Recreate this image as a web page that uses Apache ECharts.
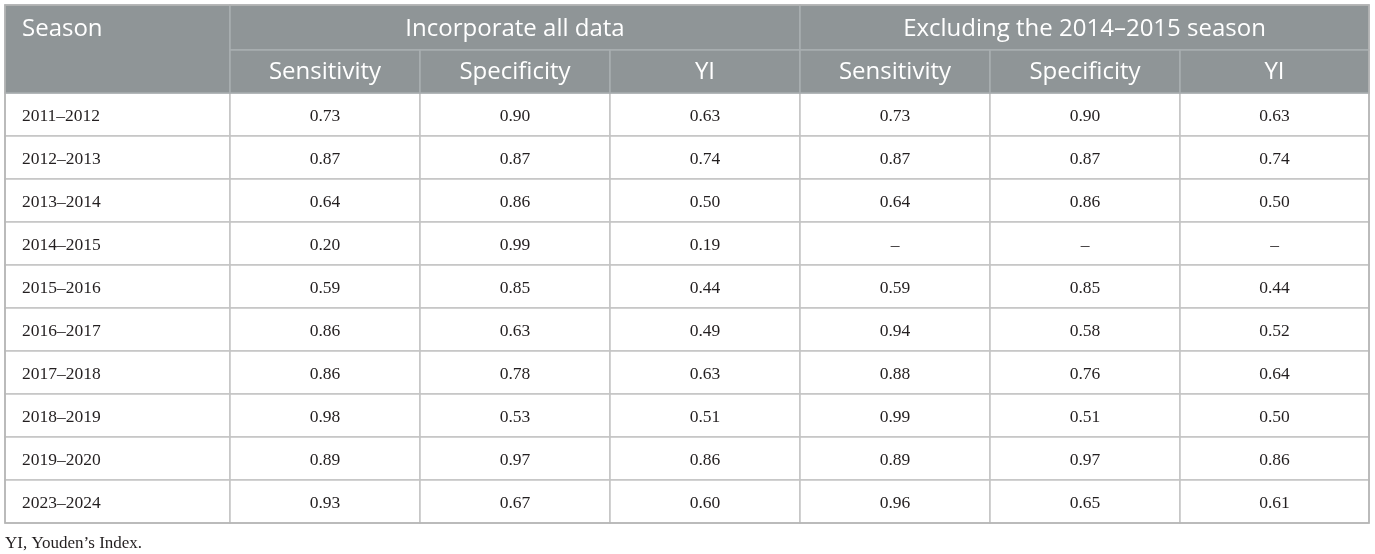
<!DOCTYPE html>
<html>
<head>
<meta charset="utf-8">
<script src="https://cdn.jsdelivr.net/npm/echarts@6/dist/echarts.min.js"></script>
<style>
  html, body { margin: 0; padding: 0; background: #fff; }
  #main { width: 1375px; height: 554px; }
</style>
</head>
<body>
<div id="main"></div>
<script>
// table contents
const seasons = ['2011–2012', '2012–2013', '2013–2014', '2014–2015', '2015–2016',
  '2016–2017', '2017–2018', '2018–2019', '2019–2020', '2023–2024'];
const groupHeaders = ['Incorporate all data', 'Excluding the 2014–2015 season'];
const subHeaders = ['Sensitivity', 'Specificity', 'YI'];

const allSens = [0.73, 0.87, 0.64, 0.20, 0.59, 0.86, 0.86, 0.98, 0.89, 0.93];
const allSpec = [0.90, 0.87, 0.86, 0.99, 0.85, 0.63, 0.78, 0.53, 0.97, 0.67];
const allYI   = [0.63, 0.74, 0.50, 0.19, 0.44, 0.49, 0.63, 0.51, 0.86, 0.60];

const exSens = [0.73, 0.87, 0.64, null, 0.59, 0.94, 0.88, 0.99, 0.89, 0.96];
const exSpec = [0.90, 0.87, 0.86, null, 0.85, 0.58, 0.76, 0.51, 0.97, 0.65];
const exYI   = [0.63, 0.74, 0.50, null, 0.44, 0.52, 0.64, 0.50, 0.86, 0.61];

const footnote = 'YI, Youden’s Index.';

// layout (axis units)
const colWidths = [225, 190, 190, 190, 190, 190, 189];
const headRows = [45, 43];
const rowHeight = 43;

const colEdges = [0];
colWidths.forEach(w => colEdges.push(colEdges[colEdges.length - 1] + w));
const headBottom = headRows[0] + headRows[1];
const tableHeight = headBottom + rowHeight * seasons.length;

const fmt = v => (v == null ? '–' : v.toFixed(2));

const cells = [];
// body
const bodyCols = [allSens, allSpec, allYI, exSens, exSpec, exYI];
seasons.forEach((s, r) => {
  const y0 = headBottom + r * rowHeight;
  const ty = y0 + rowHeight / 2 + 2;
  cells.push({ x0: colEdges[0], x1: colEdges[1], y0: y0, y1: y0 + rowHeight, ty: ty, text: s, kind: 'body', left: true });
  bodyCols.forEach((col, c) => {
    cells.push({ x0: colEdges[c + 1], x1: colEdges[c + 2], y0: y0, y1: y0 + rowHeight, ty: ty, text: fmt(col[r]), kind: 'body' });
  });
});
// header
cells.push({ x0: colEdges[0], x1: colEdges[1], y0: 0, y1: headBottom, ty: headRows[0] / 2 + 1.5, text: 'Season', kind: 'head', left: true });
groupHeaders.forEach((g, i) => {
  cells.push({ x0: colEdges[1 + i * 3], x1: colEdges[4 + i * 3], y0: 0, y1: headRows[0], ty: headRows[0] / 2 + 1.5, text: g, kind: 'head' });
  subHeaders.forEach((h, j) => {
    cells.push({ x0: colEdges[1 + i * 3 + j], x1: colEdges[2 + i * 3 + j], y0: headRows[0], y1: headBottom, ty: headRows[0] + headRows[1] / 2 + 1, text: h, kind: 'head' });
  });
});
// outer frame
cells.push({ x0: 0, x1: colEdges[colEdges.length - 1], y0: 0, y1: tableHeight, text: '', kind: 'frame' });

const chart = echarts.init(document.getElementById('main'));

function renderCell(params, api) {
  const c = cells[params.dataIndex];
  const p0 = api.coord([api.value(0), api.value(2)]);
  const p1 = api.coord([api.value(1), api.value(3)]);
  const ty = c.ty != null ? api.coord([0, c.ty])[1] : (p0[1] + p1[1]) / 2;
  const rect = { x: p0[0], y: p0[1], width: p1[0] - p0[0], height: p1[1] - p0[1] };
  const head = c.kind === 'head';
  let style;
  if (c.kind === 'frame') style = { fill: null, stroke: '#b4b4b4', lineWidth: 1.5 };
  else if (head) style = { fill: '#8f9597', stroke: '#a9aeb1', lineWidth: 1.5 };
  else style = { fill: '#fff', stroke: '#c4c4c4', lineWidth: 1.5 };
  return {
    type: 'group',
    children: [
      { type: 'rect', shape: rect, style: style },
      {
        type: 'text',
        style: {
          text: c.text,
          x: c.left ? p0[0] + 17 : (p0[0] + p1[0]) / 2,
          y: ty,
          align: c.left ? 'left' : 'center',
          verticalAlign: 'middle',
          fill: head ? '#fff' : '#231f20',
          font: head ? '24px "Open Sans"' : '17.5px "Liberation Serif"'
        }
      }
    ]
  };
}

const option = {
  backgroundColor: '#ffffff',
  animation: false,
  title: {
    text: footnote,
    left: 5,
    top: 535,
    padding: 0,
    textStyle: { fontFamily: 'Liberation Serif', fontSize: 17, fontWeight: 'normal', color: '#231f20' }
  },
  grid: { left: 5, top: 5, width: colEdges[colEdges.length - 1], height: tableHeight },
  xAxis: { type: 'value', min: 0, max: colEdges[colEdges.length - 1], show: false },
  yAxis: { type: 'value', min: 0, max: tableHeight, inverse: true, show: false },
  series: [{
    type: 'custom',
    renderItem: renderCell,
    data: cells.map(c => [c.x0, c.x1, c.y0, c.y1]),
    silent: true
  }]
};

chart.setOption(option);
</script>
</body>
</html>
